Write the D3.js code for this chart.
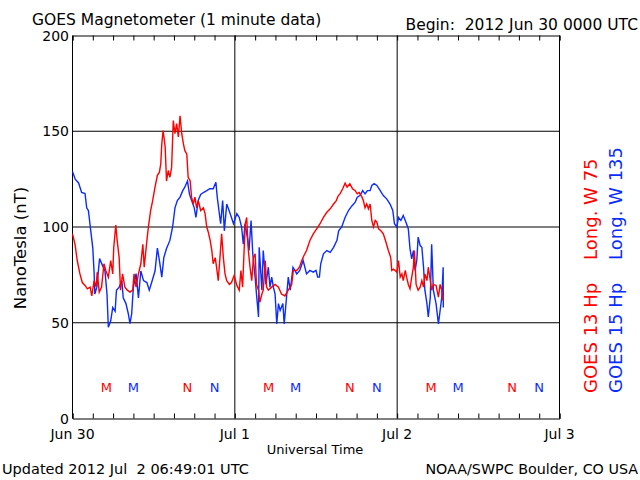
<!DOCTYPE html>
<html>
<meta charset="UTF-8">
<head>
<script src="https://d3js.org/d3.v7.min.js"></script>
<style>
  body { margin: 0; background: white; }
  text { font-family: "DejaVu Sans", sans-serif; }
</style>
</head>
<body>
<script>
// hours since 2012 Jun 30 00:00 UT, field in nT
let redHours = [0,0.37,0.7,1.1,1.45,1.85,2.2,2.6,2.85,3.2,3.5,3.65,3.95,4.3,4.65,4.95,5.3,5.65,5.95,6.1,6.4,6.6,6.9,7.1,7.4,7.75,8.1,8.5,8.9,9.1,9.4,9.75,10.1,10.4,10.6,10.9,11.05,11.25,11.55,11.85,12.2,12.55,12.85,13.05,13.2,13.4,13.7,13.9,14.15,14.4,14.65,14.9,15.15,15.4,15.65,15.9,16.15,16.4,16.6,16.9,17.1,17.4,17.6,17.85,18.1,18.35,18.6,18.95,19.35,19.6,19.85,20.1,20.35,20.6,20.8,21.1,21.3,21.55,21.8,22.05,22.3,22.55,22.8,23.2,23.5,23.9,24.3,24.65,24.9,25.15,25.35,25.55,25.75,26,26.25,26.5,26.75,27,27.2,27.5,27.7,28,28.2,28.5,28.7,28.95,29.45,29.95,30.45,30.9,31.4,31.9,32.4,32.65,33.15,33.55,33.9,34.2,34.6,35.1,35.6,36.1,36.6,37.1,37.6,38.1,38.6,39,39.3,39.55,39.95,40.3,40.6,41,41.4,41.8,42.1,42.4,42.8,43,43.25,43.5,43.75,44,44.25,44.5,44.75,45,45.25,45.6,45.95,46.35,46.7,47.05,47.2,47.45,47.7,47.95,48.2,48.45,48.7,48.9,49.2,49.4,49.65,49.9,50.15,50.4,50.55,50.8,51.1,51.4,51.65,51.9,52.1,52.4,52.6,52.9,53.1,53.35,53.75,54.1,54.35,54.6,54.8];
let redValues = [96.4,91,82.5,75.5,71,69.5,67.7,68.6,64,72,68.6,76.4,66,68.6,80.8,77,73.8,82.5,75.5,89.4,101,93,84,67,75.5,68.6,67,66,67,75.5,68.6,75.5,80.8,91,79,89.4,94.7,100.8,108.6,113.8,120.8,127,128.6,133,143.4,150.4,141.7,124,129.5,126,131,155.6,148.7,154,147,158,148.7,143.4,140,138,126,124,115.6,112,115.6,110,113.8,108.6,110,107,100,97,93,87.7,80.8,84,79,72,84,96.4,84,75.5,72,70,71,74.7,69.5,67,77.3,68.6,86,101.7,105,87.7,79,72,84,86,70,67,60.7,65,67,82.5,68.6,67,68.6,70,68.6,65,64,67,70,77.3,77.3,79,82.5,85,87.7,93,96.4,99,101.7,105,107.7,109.5,112,113.8,116.4,117.3,120,122.9,120.8,122.6,120,119,117.3,118,115.6,113.8,110,112,109.5,112,103.4,100,103.4,102.5,99,98,96.4,92,87.7,84,77.3,78,77.3,76.4,82.5,73.8,75.5,72,77.3,73.8,70,67.7,73.8,79,87.7,70,67,68.6,72,68.6,75.5,72,79,72,67,70,69.5,63.4,70,67,61.6];

let blueHours = [0,0.4,0.9,1.35,1.85,2.1,2.35,2.7,3,3.2,3.3,3.6,4,4.3,4.8,5.1,5.3,5.65,5.95,6.3,6.5,6.9,7.3,7.5,7.9,8.25,8.5,8.75,9,9.4,9.75,10.1,10.5,11,11.35,11.7,12.2,12.55,12.85,13.2,13.5,13.9,14.4,14.8,15.15,15.5,15.9,16.3,16.6,17,17.3,17.6,18,18.25,18.6,18.95,19.35,19.85,20.3,20.8,21.2,21.4,21.65,21.9,22.2,22.45,22.8,23.15,23.5,23.8,24.3,24.65,25,25.25,25.5,25.85,26.1,26.4,26.65,27,27.2,27.5,27.6,28,28.2,28.6,28.95,29.2,29.45,29.7,29.95,30.2,30.45,30.7,31.1,31.3,31.6,31.9,32.2,32.6,32.9,33.15,33.6,34.1,34.6,35.1,35.6,36,36.25,36.5,36.7,37.1,37.6,38.1,38.6,39.1,39.35,39.8,40.3,40.8,41.3,41.8,42.1,42.5,42.9,43.25,43.6,44,44.25,44.6,45,45.5,45.95,46.45,46.95,47.35,47.6,47.95,48.2,48.55,48.9,49.3,49.65,49.9,50.15,50.4,50.65,50.9,51.1,51.4,51.65,51.9,52.1,52.4,52.6,52.9,53.1,53.35,53.75,54.1,54.35,54.6,54.8,54.82];
let blueValues = [129,125,123,118,117.5,110,108.6,98,89,75.7,65,68.6,83.5,81,77,65,47.7,51,58,56,67,68.6,72,63,60,54.7,49.6,54.7,68.6,75.7,63,77,72,71,67,71,77,89,82.5,73.8,84,88.8,93,100,110,113.8,115.6,119,120.8,124,117,114,110,105,114,117,118,119,120,120,123.4,115.6,108.6,101.7,113.8,98,112,108.6,105,101.7,107,105,100,91,101.7,94.7,87.7,103.4,86,73.8,65,53,89.4,67,87.7,70,79,68.6,73.8,68.6,65,49.4,60,56.4,60,49.4,61.6,73.8,67,79,77.3,75.5,77.3,82.5,75.5,77.3,76.4,77.3,73.8,73.8,80.8,86,87.7,86.8,89.4,93,98,100,105,108.6,111,113,115.6,116.4,119,117.3,119,119,121.7,122.6,121.7,119,116.4,114.7,112,108.6,101.7,100,105,103.4,106,102.5,99,88.6,83.4,87.7,77.3,82.5,94.7,90.3,89.4,79,67,60,53,63.4,91,67,60,49.4,56.4,63.4,79,58];

let dayLabels = ["Jun 30", "Jul 1", "Jul 2", "Jul 3"];
let yTicks = [0, 50, 100, 150, 200];
// local midnight (M) and noon (N) for each satellite, hours UT
let markerHours = {
    red: {M: [5, 29, 53], N: [17, 41, 65]},
    blue: {M: [9, 33, 57], N: [21, 45, 69]}
};

let red = "#ff0000";
let blue = "#0a2cff";

let svg = d3.select("body").append("svg")
    .attr("width", 640)
    .attr("height", 480);

let x = d3.scaleLinear().domain([0, 72]).range([72.5, 559.5]);
let y = d3.scaleLinear().domain([0, 200]).range([418.5, 35.5]);

// grid
svg.append("g")
    .selectAll("line.h")
    .data([50, 100, 150])
    .join("line")
    .attr("x1", x(0)).attr("x2", x(72))
    .attr("y1", d => y(d)).attr("y2", d => y(d))
    .attr("stroke", "black");

svg.append("g")
    .selectAll("line.v")
    .data([24, 48])
    .join("line")
    .attr("x1", d => x(d)).attr("x2", d => x(d))
    .attr("y1", y(0)).attr("y2", y(200))
    .attr("stroke", "black");

// frame with 3-hour ticks
let hourTicks = d3.range(0, 73, 3);
let bottomAxis = d3.axisBottom(x).tickValues(hourTicks).tickSize(-5).tickFormat("");
let topAxis = d3.axisTop(x).tickValues(hourTicks).tickSize(-5).tickFormat("");

svg.append("g").attr("transform", `translate(0,${y(0)})`).call(bottomAxis);
svg.append("g").attr("transform", `translate(0,${y(200)})`).call(topAxis);
svg.append("line")
    .attr("x1", x(0)).attr("x2", x(0)).attr("y1", y(0)).attr("y2", y(200))
    .attr("stroke", "black");
svg.append("line")
    .attr("x1", x(72)).attr("x2", x(72)).attr("y1", y(0)).attr("y2", y(200))
    .attr("stroke", "black");
svg.selectAll(".domain").attr("stroke", "black");
svg.selectAll(".tick line").attr("stroke", "black");

// y labels
svg.append("g")
    .selectAll("text")
    .data(yTicks)
    .join("text")
    .attr("x", 69)
    .attr("y", d => y(d) + 5)
    .attr("text-anchor", "end")
    .attr("font-size", "14px")
    .text(d => d);

// day labels
svg.append("g")
    .selectAll("text")
    .data(dayLabels)
    .join("text")
    .attr("x", (d, i) => x(i * 24))
    .attr("y", 439)
    .attr("text-anchor", "middle")
    .attr("font-size", "14px")
    .text(d => d);

// series
let line = d3.line().x(d => x(d[0])).y(d => y(d[1]));

svg.append("path")
    .datum(d3.zip(blueHours, blueValues))
    .attr("fill", "none")
    .attr("stroke", blue)
    .attr("stroke-width", 1.4)
    .attr("d", line);

svg.append("path")
    .datum(d3.zip(redHours, redValues))
    .attr("fill", "none")
    .attr("stroke", red)
    .attr("stroke-width", 1.4)
    .attr("d", line);

// M / N markers
for (let [sat, color] of [["red", red], ["blue", blue]]) {
    for (let letter of ["M", "N"]) {
        svg.append("g")
            .selectAll("text")
            .data(markerHours[sat][letter])
            .join("text")
            .attr("x", d => x(d))
            .attr("y", 392)
            .attr("text-anchor", "middle")
            .attr("font-size", "13px")
            .attr("fill", color)
            .text(letter);
    }
}

// titles
svg.append("text")
    .attr("x", 32).attr("y", 25)
    .attr("font-size", "15.5px")
    .text("GOES Magnetometer (1 minute data)");

svg.append("text")
    .attr("x", 638).attr("y", 30)
    .attr("text-anchor", "end")
    .attr("font-size", "15.5px")
    .style("white-space", "pre")
    .text("Begin:  2012 Jun 30 0000 UTC");

svg.append("text")
    .attr("x", 315).attr("y", 454)
    .attr("text-anchor", "middle")
    .attr("font-size", "13px")
    .text("Universal Time");

svg.append("text")
    .attr("x", 2).attr("y", 474)
    .attr("font-size", "14.5px")
    .style("white-space", "pre")
    .text("Updated 2012 Jul  2 06:49:01 UTC");

svg.append("text")
    .attr("x", 638).attr("y", 474)
    .attr("text-anchor", "end")
    .attr("font-size", "14.3px")
    .text("NOAA/SWPC Boulder, CO USA");

svg.append("text")
    .attr("transform", "translate(26,248) rotate(-90)")
    .attr("text-anchor", "middle")
    .attr("font-size", "16.5px")
    .text("NanoTesla (nT)");

// satellite legend
svg.append("text")
    .attr("transform", "translate(597,393) rotate(-90)")
    .attr("font-size", "18px")
    .attr("fill", red)
    .style("white-space", "pre")
    .text("GOES 13 Hp    Long. W 75");

svg.append("text")
    .attr("transform", "translate(622,393) rotate(-90)")
    .attr("font-size", "18px")
    .attr("fill", blue)
    .style("white-space", "pre")
    .text("GOES 15 Hp    Long. W 135");
</script>
</body>
</html>
